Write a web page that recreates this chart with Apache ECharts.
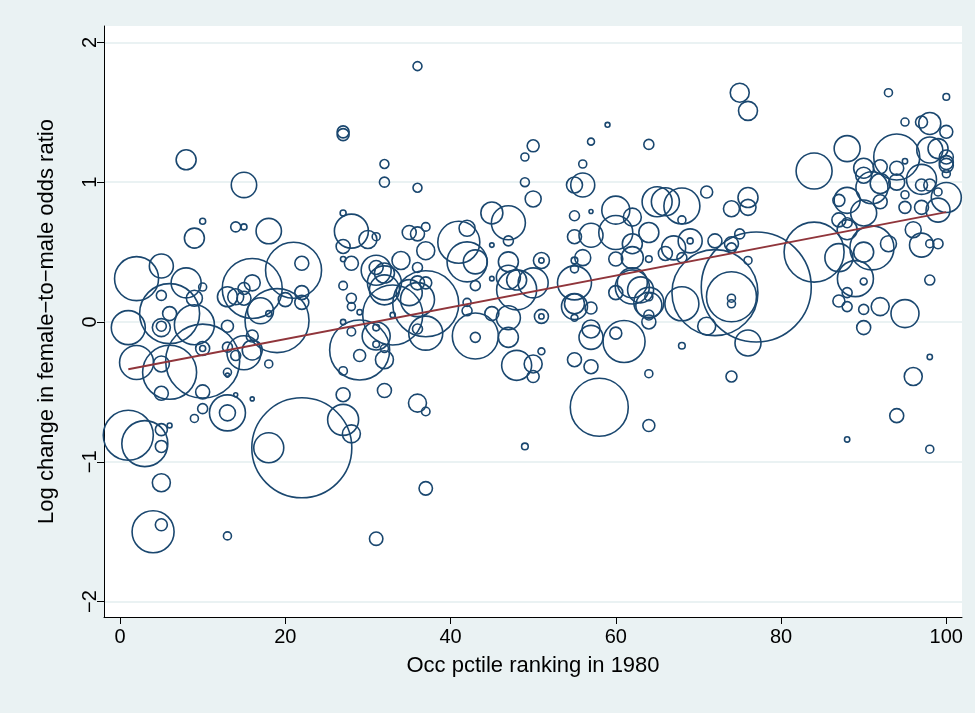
<!DOCTYPE html>
<html>
<head>
<meta charset="utf-8">
<script src="https://cdn.jsdelivr.net/npm/echarts@6/dist/echarts.min.js"></script>
<style>
html,body{margin:0;padding:0;background:#eaf2f3;}
#chart{width:975px;height:713px;}
</style>
</head>
<body>
<div id="chart"></div>
<script>
// Occupation percentile ranking in 1980 (x)
const occPctile = [
 8,15,10,14,15,18,9,2,5,8,
 5,10,9,6,1,5,5,6,9,2,
 5,6,10,10,10,13,13,14,16,16,
 15,13,13,18,10,5,16,14,13,13,
 10,9,1,3,5,6,5,5,4,5,
 13,18,22,16,21,19,22,13,14,15,
 16,15,17,18,20,22,22,36,27,27,
 32,32,36,49,50,49,50,27,28,45,
 47,27,30,31,35,36,37,37,41,42,
 42,43,45,47,47,47,48,48,45,43,
 42,42,45,47,47,43,43,48,50,50,
 37,36,37,36,37,36,36,35,34,32,
 32,31,31,32,33,33,31,31,31,32,
 32,29,29,27,28,27,29,27,28,28,
 27,28,32,27,27,36,37,37,31,49,
 28,75,76,59,57,64,56,55,56,57,
 60,55,65,66,68,71,68,62,74,76,
 76,58,74,64,64,55,57,51,61,60,
 57,57,64,64,68,71,74,72,74,74,
 68,64,64,62,62,63,64,60,55,55,
 55,57,51,51,50,55,55,55,56,51,
 51,60,62,64,66,68,67,69,69,72,
 74,74,75,76,64,62,57,55,60,93,
 100,95,97,98,100,88,84,94,95,98,
 99,100,100,100,100,97,90,90,92,94,
 91,92,94,97,98,100,99,95,92,88,
 87,90,95,97,99,87,88,77,84,87,
 89,90,90,91,93,97,98,99,98,88,
 87,88,90,92,95,90,98,96,94,76,
 88,96,88,98
];
// Log change in female-to-male odds ratio (y)
const logChange = [
 1.16,0.98,0.72,0.68,0.68,0.65,0.60,0.31,0.40,0.28,
 0.19,0.25,0.17,0.06,-0.04,-0.03,-0.04,0.06,-0.02,-0.29,
 -0.30,-0.36,-0.28,-0.19,-0.19,-0.03,-0.18,-0.24,-0.10,-0.20,
 -0.22,-0.36,-0.38,-0.30,-0.50,-0.51,-0.55,-0.52,-0.65,-0.65,
 -0.62,-0.69,-0.81,-0.87,-0.77,-0.74,-0.89,-1.15,-1.50,-1.45,
 -1.53,-0.90,-0.90,0.24,0.37,0.01,0.42,0.18,0.18,0.17,
 0.28,0.24,0.08,0.06,0.16,0.21,0.14,1.83,1.36,1.34,
 1.13,1.0,0.96,1.18,1.26,1.0,0.88,0.78,0.65,0.78,
 0.71,0.54,0.59,0.61,0.64,0.63,0.68,0.51,0.57,0.67,
 0.43,0.43,0.55,0.58,0.43,0.32,0.30,0.23,0.31,0.26,
 0.14,0.08,0.06,0.03,-0.11,-0.10,-0.11,-0.31,-0.30,-0.39,
 -0.08,-0.05,0.13,0.28,0.28,0.39,0.16,0.21,0.44,0.28,
 0.23,0.37,0.39,0.35,0.05,0.05,-0.10,-0.04,-0.16,-0.19,
 -0.27,-0.20,-0.24,-0.35,-0.07,0.0,0.07,0.26,0.17,0.11,
 0.45,0.42,-0.49,-0.52,-0.70,-0.58,-0.64,-1.19,-1.55,-0.89,
 -0.80,1.64,1.51,1.41,1.29,1.27,1.13,0.98,0.98,0.79,
 0.80,0.76,0.86,0.86,0.83,0.93,0.73,0.75,0.81,0.89,
 0.82,-0.61,-0.39,-0.37,-0.74,-0.27,-0.32,-0.21,-0.14,-0.08,
 -0.11,-0.05,0.0,0.05,-0.17,-0.03,0.18,0.21,0.17,0.13,
 0.13,0.14,0.18,0.25,0.28,0.23,0.12,0.21,0.11,0.13,
 0.03,0.10,0.04,0.04,0.28,0.28,0.38,0.44,0.46,0.44,
 0.44,0.45,0.46,0.45,0.49,0.46,0.53,0.58,0.58,0.58,
 0.56,0.53,0.63,0.44,0.64,0.56,0.62,0.61,0.64,1.64,
 1.61,1.43,1.43,1.42,1.36,1.24,1.08,1.18,1.15,1.23,
 1.24,1.18,1.14,1.12,1.06,1.02,1.10,1.05,1.11,1.10,
 0.96,0.99,1.0,0.98,0.98,0.89,0.93,0.91,0.86,0.87,
 0.87,0.78,0.82,0.82,0.80,0.73,0.71,0.25,0.50,0.46,
 0.31,0.29,0.50,0.53,0.56,0.55,0.56,0.56,0.30,0.21,
 0.15,0.11,0.09,0.11,0.06,-0.04,-0.25,-0.39,-0.67,-0.15,
 0.66,0.66,-0.84,-0.91
];
// Employment weight of each occupation (marker area)
const empWeight = [
 1.0,1.61,0.09,0.25,0.09,1.61,1.0,4.84,1.44,2.25,
 0.25,0.16,0.64,9.0,2.89,0.25,0.81,0.49,4.0,2.89,
 0.64,7.29,13.69,0.49,0.09,0.36,0.25,0.25,0.36,1.0,
 2.89,0.16,0.04,0.16,0.49,0.49,0.04,0.04,3.24,0.64,
 0.25,0.16,6.25,5.29,0.36,0.06,0.36,0.81,4.41,0.36,
 0.16,2.25,25,9.0,7.84,10.24,0.49,1.0,0.64,0.49,
 0.64,0.36,1.69,0.09,0.49,0.49,0.49,0.2,0.36,0.36,
 0.2,0.25,0.2,0.16,0.36,0.2,0.64,0.09,2.89,1.21,
 2.89,0.49,0.81,0.16,0.49,0.49,0.18,0.81,4.41,0.64,
 4.0,1.44,0.05,0.25,1.0,1.44,1.0,4.0,0.05,0.25,
 0.16,0.25,0.49,1.44,1.0,5.29,0.25,2.25,0.81,0.36,
 2.89,0.25,10.89,0.49,0.36,0.25,2.89,1.69,0.81,2.89,
 2.25,2.25,0.49,1.0,9.0,0.07,1.96,0.11,0.11,0.16,
 0.81,9.0,0.36,0.18,0.18,0.07,0.07,0.18,0.25,0.16,
 0.07,0.49,0.49,0.49,2.4,0.81,0.18,0.45,0.45,0.11,
 0.81,0.9,0.9,0.06,0.12,0.25,0.16,0.64,1.44,0.04,
 1.96,0.25,2.25,1.96,3.24,0.36,0.16,0.81,0.64,1.0,
 0.64,8.41,0.3,0.16,0.36,0.49,0.49,0.12,4.41,0.36,
 1.44,0.81,0.49,0.25,0.11,0.81,6.25,18.49,0.16,0.16,
 2.89,2.25,0.16,2.89,2.25,1.69,1.69,0.49,1.69,1.0,
 0.12,0.36,0.49,0.07,2.25,2.89,0.16,0.11,0.64,0.64,
 0.07,0.49,1.21,0.11,0.49,0.25,1.44,1.44,0.09,0.49,
 0.49,0.25,0.25,0.16,1.0,1.0,1.44,0.49,2.89,0.16,
 0.11,0.16,0.36,1.21,0.42,1.69,3.24,5.29,0.07,1.69,
 1.0,0.49,0.49,0.49,0.16,2.25,1.0,0.64,0.49,0.49,
 2.56,1.0,0.64,0.36,0.36,2.25,0.16,0.16,0.49,1.69,
 0.36,1.69,0.36,0.49,1.44,0.49,0.25,30.25,9.0,1.96,
 3.24,0.12,1.0,4.84,0.64,1.44,0.16,0.25,0.25,0.25,
 0.36,0.25,0.25,0.81,1.96,0.49,0.07,0.81,0.49,1.69,
 1.0,0.64,0.07,0.16
];
// Fitted line end points
const fitX = [1, 100];
const fitY = [-0.338, 0.785];
// Tick labels
const xTicks = [0, 20, 40, 60, 80, 100];
const yTicks = [-2, -1, 0, 1, 2];

const navy = '#1a476f';
const points = occPctile.map((x, i) => [x, logChange[i], empWeight[i]]);
const fitLine = fitX.map((x, i) => [x, fitY[i]]);
const fmt = v => String(v).replace('-', '\u2212');
const font = '"Liberation Sans", Arial, Helvetica, sans-serif';

const chart = echarts.init(document.getElementById('chart'), null, {renderer: 'canvas'});
chart.setOption({
  animation: false,
  backgroundColor: '#eaf2f3',
  grid: {left: 104, top: 26, width: 858, height: 591, show: true, backgroundColor: '#ffffff', borderWidth: 0},
  xAxis: {
    type: 'value', min: -1.94, max: 101.9,
    name: 'Occ pctile ranking in 1980', nameLocation: 'middle', nameGap: 38,
    nameTextStyle: {fontFamily: font, fontSize: 22, color: '#000'},
    axisLine: {show: true, onZero: false, lineStyle: {color: '#000', width: 1}},
    axisTick: {show: true, length: 7, customValues: xTicks, lineStyle: {color: '#000'}},
    axisLabel: {customValues: xTicks, margin: 10, fontFamily: font, fontSize: 20, color: '#000'},
    splitLine: {show: false}
  },
  yAxis: {
    type: 'value', min: -2.11, max: 2.117,
    name: 'Log change in female\u2212to\u2212male odds ratio', nameLocation: 'middle', nameGap: 46,
    nameTextStyle: {fontFamily: font, fontSize: 22, color: '#000'},
    axisLine: {show: true, onZero: false, lineStyle: {color: '#000', width: 1}},
    axisTick: {show: true, length: 7, customValues: yTicks, lineStyle: {color: '#000'}},
    axisLabel: {customValues: yTicks, rotate: 90, margin: 4, fontFamily: font, fontSize: 20, color: '#000', formatter: fmt},
    splitLine: {show: false}
  },
  series: [
    {
      // horizontal grid lines, drawn beneath the markers
      type: 'line', z: 1, silent: true,
      data: fitLine, symbol: 'none',
      lineStyle: {opacity: 0},
      markLine: {
        z: 0, silent: true, symbol: 'none', label: {show: false}, animation: false,
        lineStyle: {color: '#eaf2f3', width: 2, type: 'solid', opacity: 1},
        data: yTicks.map(v => ({yAxis: v}))
      }
    },
    {
      type: 'scatter', z: 2, silent: true,
      data: points,
      symbol: 'circle',
      symbolSize: v => 20 * Math.sqrt(v[2]),
      itemStyle: {color: 'rgba(0,0,0,0)', borderColor: navy, borderWidth: 1.6, opacity: 1},
      emphasis: {disabled: true}
    },
    {
      type: 'line', z: 3, silent: true,
      data: fitLine, symbol: 'none',
      lineStyle: {color: '#90353b', width: 1.8}
    }
  ]
});
</script>
</body>
</html>
